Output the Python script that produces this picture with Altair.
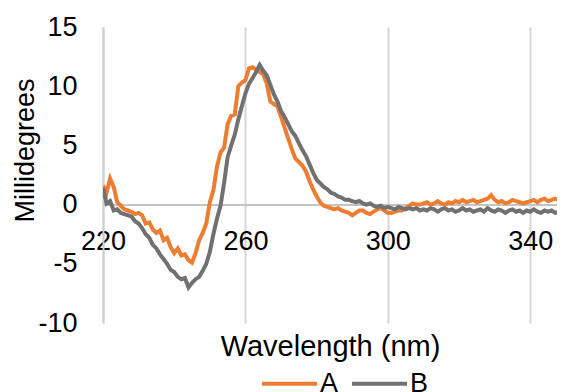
import altair as alt
import pandas as pd

wavelength = list(range(220, 351))

series_a = [
    1.6, 1.0, 2.2, 1.5, 0.2, -0.1, -0.4, -0.5, -0.6, -0.8,
    -0.7, -0.9, -1.6, -1.5, -2.1, -2.4, -2.2, -3.0, -2.8, -3.6,
    -4.1, -3.7, -4.3, -4.2, -4.7, -4.9, -4.1, -3.0, -2.4, -1.6,
    0.2, 1.2, 3.2, 4.4, 4.8, 6.8, 7.5, 7.6, 10.0, 10.3,
    10.5, 11.5, 11.6, 11.4, 11.2, 11.0, 10.2, 8.7, 8.5, 8.3,
    7.4, 6.5, 5.6, 4.7, 3.9, 3.6, 3.3, 2.8, 2.0, 1.3,
    0.7, 0.2, -0.1, -0.2, -0.3, -0.4, -0.3, -0.5, -0.6, -0.7,
    -0.9, -0.7, -0.5, -0.5, -0.7, -0.8, -0.6, -0.4, -0.3, -0.5,
    -0.7, -0.7, -0.6, -0.5, -0.5, -0.3, -0.1, 0.1, 0.0, 0.0,
    0.1, 0.2, 0.0, 0.1, 0.3, 0.1, 0.0, 0.2, 0.1, 0.3,
    0.2, 0.4, 0.2, 0.3, 0.4, 0.2, 0.3, 0.4, 0.5, 0.8,
    0.4, 0.2, 0.3, 0.1, 0.2, 0.4, 0.3, 0.2, 0.1, 0.2,
    0.3, 0.4, 0.2, 0.4, 0.5, 0.3, 0.4, 0.5, 0.4, 0.5,
    0.5,
]

series_b = [
    1.4, 0.1, 0.3, -0.5, -0.4, -0.7, -0.8, -0.9, -1.0, -1.4,
    -1.6, -2.0, -2.5, -2.8, -3.4, -3.7, -4.2, -4.6, -5.0, -5.5,
    -5.7, -6.1, -6.3, -6.2, -7.0, -6.6, -6.3, -6.1, -5.6, -5.0,
    -4.0, -2.5, -1.2, -0.1, 1.8, 4.0, 5.0, 5.9, 7.2, 8.3,
    9.4, 10.2, 10.7, 11.2, 11.8, 11.3, 10.9, 10.1, 9.3, 8.7,
    7.9, 7.4, 6.8, 6.2, 5.8, 5.2, 4.6, 4.1, 3.4, 2.7,
    2.1, 1.8, 1.5, 1.3, 1.0, 0.9, 0.7, 0.6, 0.4, 0.4,
    0.3, 0.2, 0.3, 0.1, 0.0, 0.1, -0.1, -0.2, -0.1, -0.3,
    -0.2, -0.3, -0.4, -0.2, -0.3, -0.4, -0.3, -0.4, -0.3, -0.5,
    -0.4, -0.5, -0.3, -0.4, -0.6, -0.4, -0.3, -0.5, -0.4, -0.6,
    -0.5, -0.3, -0.5, -0.4, -0.6, -0.5, -0.4, -0.6, -0.3, -0.5,
    -0.6, -0.4, -0.5, -0.7, -0.5, -0.4, -0.6, -0.5, -0.7, -0.5,
    -0.6, -0.4, -0.6, -0.7, -0.5, -0.6, -0.5, -0.7, -0.6, -0.5,
    -0.6,
]

series_names = ["A", "B"]
series_colors = ["#ED7D31", "#717171"]
x_ticks = [220, 260, 300, 340]
y_ticks = [-10, -5, 0, 5, 10, 15]

rows = []
for name, vals in zip(series_names, [series_a, series_b]):
    for w, v in zip(wavelength, vals):
        rows.append({"Wavelength": w, "Millidegrees": v, "Series": name})
df = pd.DataFrame(rows)

FONT = "Liberation Sans"

chart = alt.Chart(df).mark_line(strokeWidth=4, clip=True).encode(
    x=alt.X(
        "Wavelength:Q",
        scale=alt.Scale(domain=[220, 347.5], nice=False, zero=False),
        axis=alt.Axis(
            values=x_ticks,
            title="Wavelength (nm)",
            grid=True,
            gridColor="#d6d6d6",
            gridWidth=2,
            ticks=False,
            tickSize=0,
            domainColor="#c4c4c4",
            domainWidth=2,
            offset=-118.4,
            labelFlush=False,
            labelOverlap=False,
            labelPadding=24,
            labelFontSize=27,
            labelColor="#000000",
            labelFont=FONT,
            titleFont=FONT,
            titleFontSize=29,
            titleFontWeight="normal",
            titleColor="#000000",
            titleBaseline="top",
            titleY=128,
        ),
    ),
    y=alt.Y(
        "Millidegrees:Q",
        scale=alt.Scale(domain=[-10, 15], nice=False),
        axis=alt.Axis(
            values=y_ticks,
            title="Millidegrees",
            grid=False,
            ticks=False,
            tickSize=0,
            domainColor="#d0d0d0",
            domainWidth=2,
            labelExpr="datum.value < 0 ? '-' + abs(datum.value) : '' + datum.value",
            labelFlush=False,
            labelOverlap=False,
            labelPadding=26,
            labelFontSize=27,
            labelColor="#000000",
            labelFont=FONT,
            titleFont=FONT,
            titleFontSize=27,
            titleFontWeight="normal",
            titleColor="#000000",
            titleBaseline="alphabetic",
            titleAngle=270,
            titleX=-70,
            titleY=123,
        ),
    ),
    color=alt.Color(
        "Series:N",
        scale=alt.Scale(domain=series_names, range=series_colors),
        legend=alt.Legend(
            title=None,
            orient="none",
            direction="horizontal",
            legendX=157,
            legendY=327,
            symbolType="stroke",
            symbolSize=3025,
            symbolStrokeWidth=4,
            labelFont=FONT,
            labelFontSize=27,
            labelColor="#000000",
            labelOffset=1,
            columnPadding=5,
        ),
    ),
).properties(
    width=454,
    height=296,
    autosize=alt.AutoSizeParams(type="none"),
    padding={"left": 95, "top": 19, "right": 0, "bottom": 69},
).configure_view(strokeWidth=0)

chart.save("out.html", embed_options={"renderer": "svg", "actions": False})
